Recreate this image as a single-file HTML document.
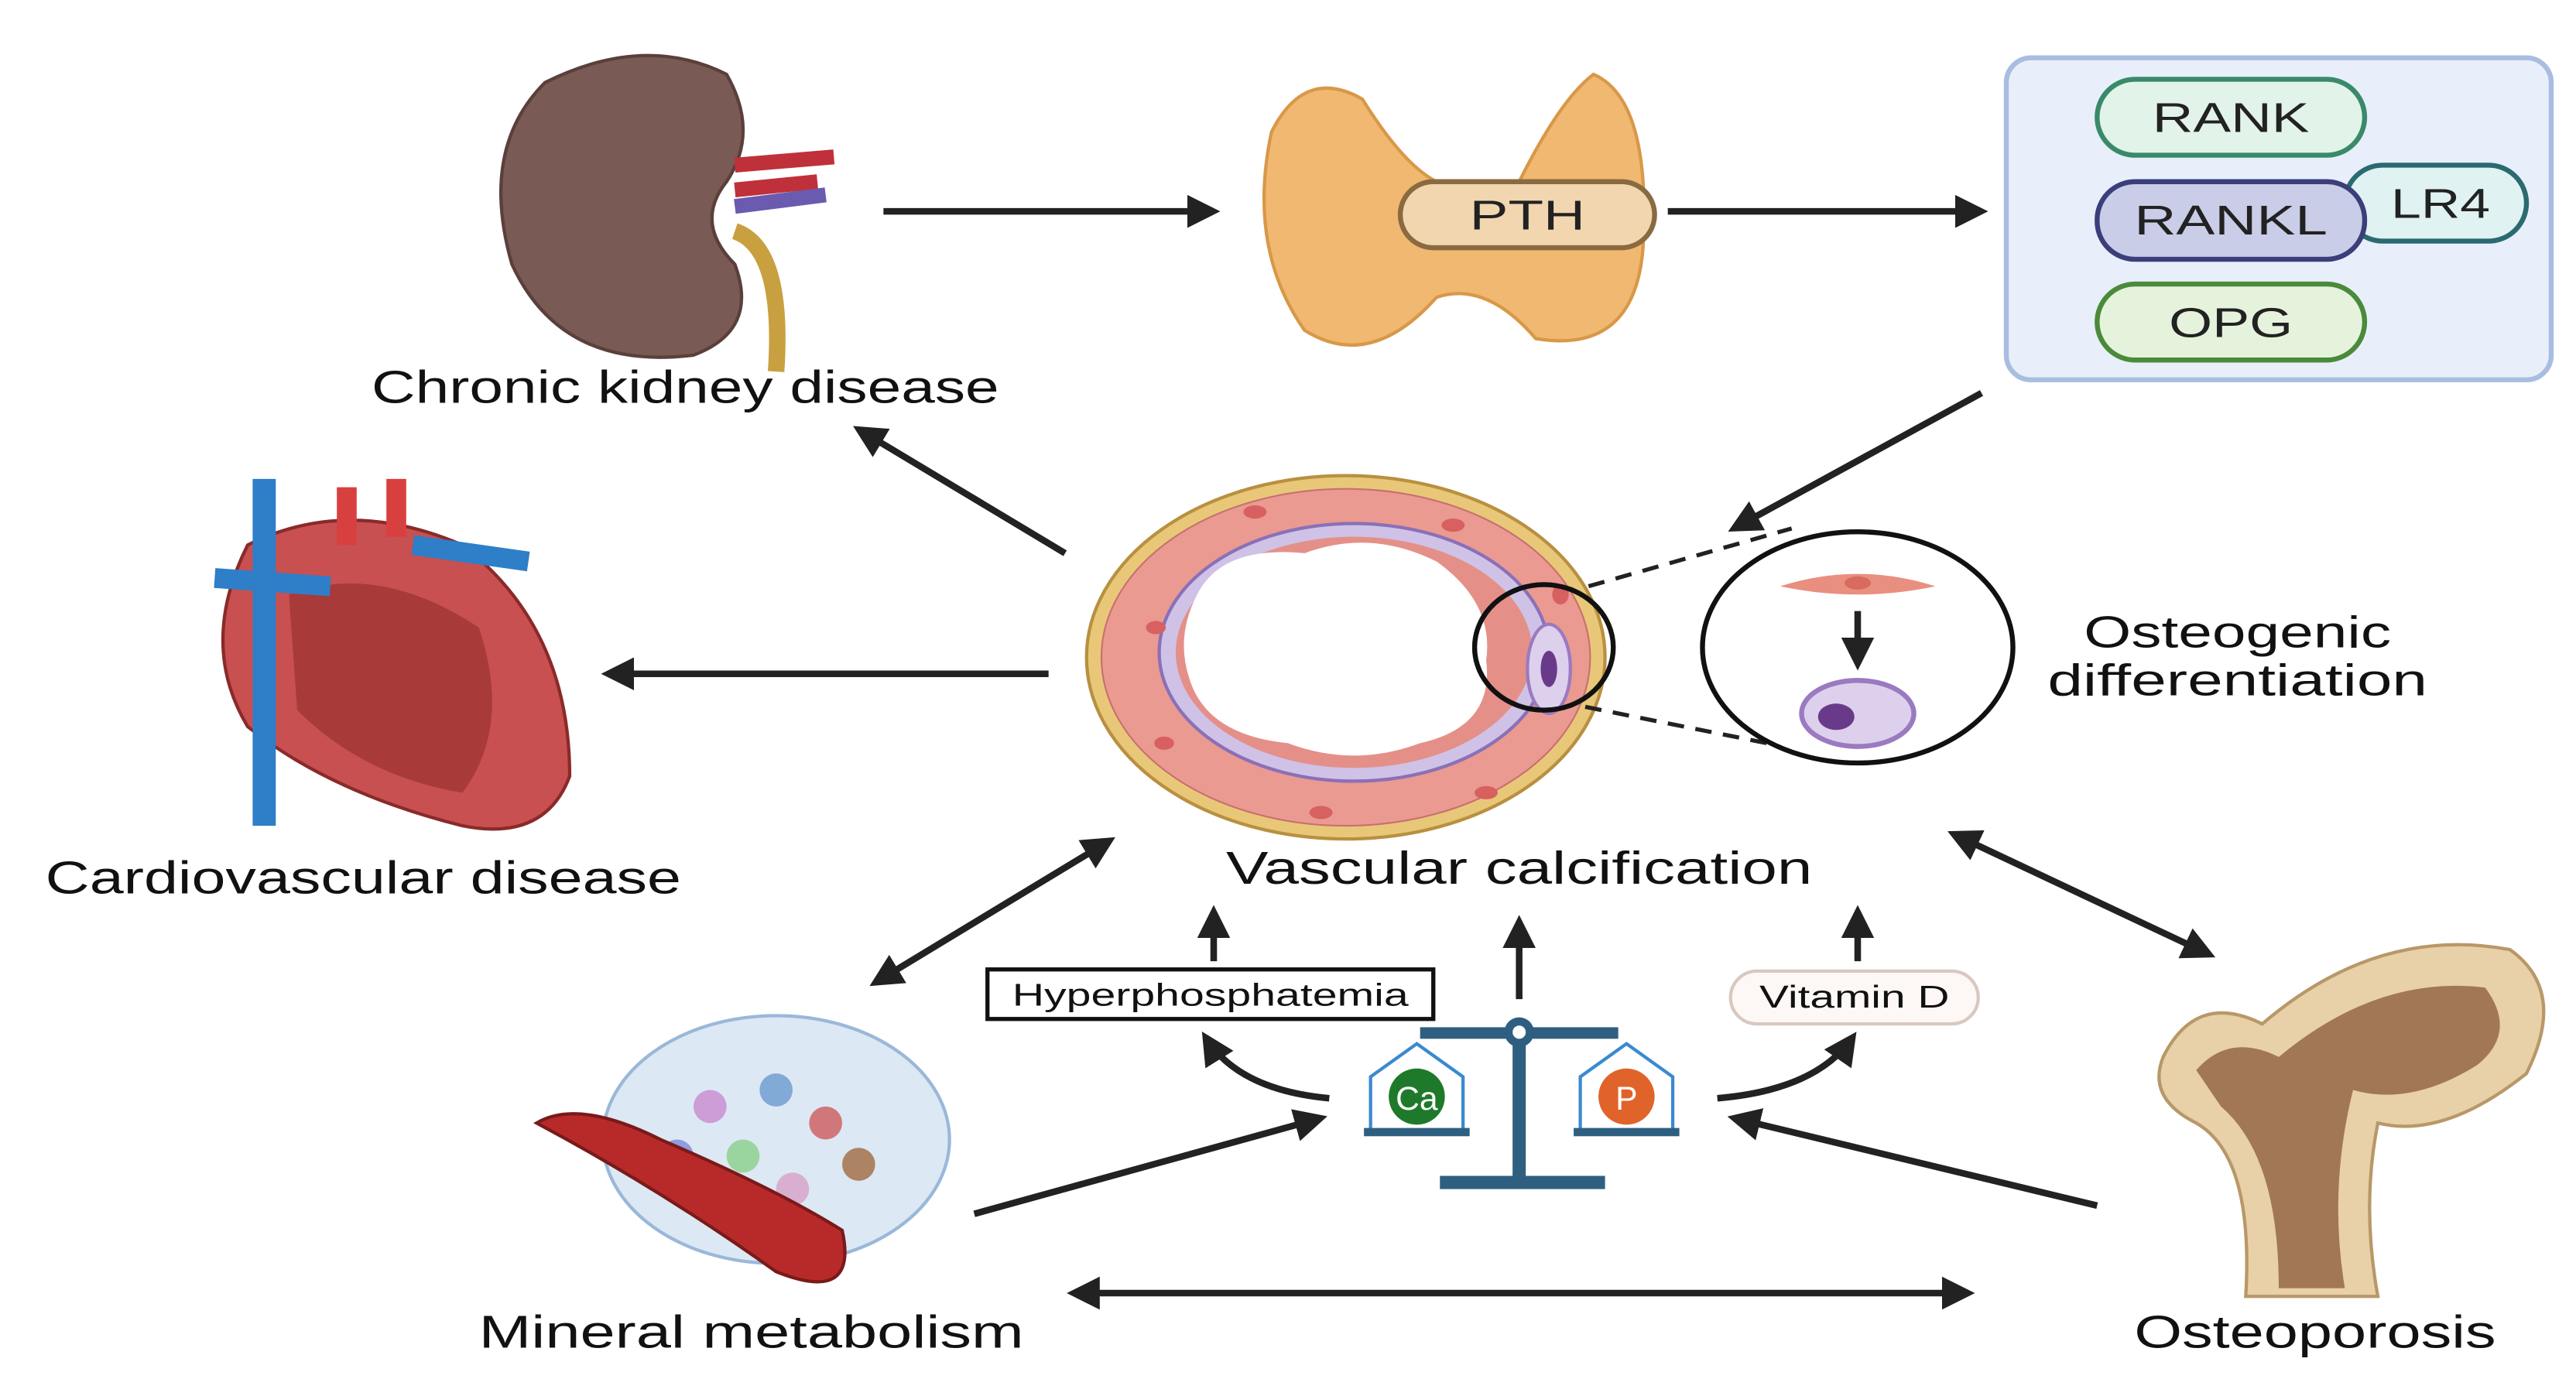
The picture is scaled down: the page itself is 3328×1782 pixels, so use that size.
<!DOCTYPE html>
<html><head><meta charset="utf-8"><style>html,body{margin:0;padding:0;background:#fff}svg{display:block}text{font-family:"Liberation Sans",sans-serif}</style></head><body>
<svg width="3328" height="1782" viewBox="0 0 1560 835" preserveAspectRatio="none" xmlns="http://www.w3.org/2000/svg">
<defs>
<marker id="ah" markerWidth="5" markerHeight="5" refX="4" refY="2.5" orient="auto" markerUnits="strokeWidth"><path d="M0,0 L5,2.5 L0,5 z" fill="#222"/></marker>
<marker id="as" markerWidth="5" markerHeight="5" refX="1" refY="2.5" orient="auto" markerUnits="strokeWidth"><path d="M5,0 L0,2.5 L5,5 z" fill="#222"/></marker>
</defs>
<g stroke="#222" stroke-width="4" fill="none">
<line x1="535" y1="128" x2="735" y2="128" marker-end="url(#ah)"/>
<line x1="1010" y1="128" x2="1200" y2="128" marker-end="url(#ah)"/>
<line x1="1200" y1="238" x2="1050" y2="320" marker-end="url(#ah)"/>
<line x1="645" y1="335" x2="520" y2="260" marker-end="url(#ah)"/>
<line x1="635" y1="408" x2="368" y2="408" marker-end="url(#ah)"/>
<line x1="530" y1="595" x2="672" y2="509" marker-end="url(#ah)" marker-start="url(#as)"/>
<line x1="1183" y1="505" x2="1338" y2="578" marker-end="url(#ah)" marker-start="url(#as)"/>
<line x1="735" y1="582" x2="735" y2="552" marker-end="url(#ah)"/>
<line x1="920" y1="605" x2="920" y2="558" marker-end="url(#ah)"/>
<line x1="1125" y1="582" x2="1125" y2="552" marker-end="url(#ah)"/>
<path d="M805,665 Q750,660 730,628" marker-end="url(#ah)"/>
<path d="M1040,665 Q1100,660 1122,628" marker-end="url(#ah)"/>
<line x1="590" y1="735" x2="800" y2="677" marker-end="url(#ah)"/>
<line x1="1270" y1="730" x2="1050" y2="677" marker-end="url(#ah)"/>
<line x1="650" y1="783" x2="1192" y2="783" marker-end="url(#ah)" marker-start="url(#as)"/>
</g>
<!-- kidney -->
<path d="M330,50 Q390,20 440,45 Q460,80 440,110 Q420,135 445,160 Q460,200 420,215 Q340,225 310,160 Q290,90 330,50z" fill="#7a5a55" stroke="#5a3f3a" stroke-width="2"/>
<path d="M445,100 L505,95 M445,115 L495,110" stroke="#c0303a" stroke-width="9"/>
<path d="M445,125 L500,118" stroke="#6a5ab0" stroke-width="9"/>
<path d="M445,140 Q475,150 470,225" stroke="#c8a040" stroke-width="10" fill="none"/>
<text x="415" y="244" font-size="28" text-anchor="middle" fill="#111" textLength="380" lengthAdjust="spacingAndGlyphs">Chronic kidney disease</text>
<!-- thyroid -->
<path d="M770,80 Q790,40 825,60 Q850,100 870,110 L920,110 Q945,60 965,45 Q1000,60 995,150 Q990,215 930,205 Q900,170 870,180 Q830,225 790,200 Q755,150 770,80z" fill="#f0b870" stroke="#d89848" stroke-width="2"/>
<rect x="848" y="110" width="154" height="40" rx="20" fill="#f2d6b0" stroke="#8a6a40" stroke-width="3"/>
<text x="925" y="139" font-size="25" text-anchor="middle" fill="#222" textLength="70" lengthAdjust="spacingAndGlyphs">PTH</text>
<!-- receptor box -->
<rect x="1215" y="35" width="330" height="195" rx="15" fill="#e8effa" stroke="#a8bde0" stroke-width="3"/>
<rect x="1270" y="48" width="162" height="46" rx="23" fill="#e2f3ea" stroke="#3a8a6a" stroke-width="3"/>
<text x="1351" y="80" font-size="25" text-anchor="middle" fill="#222" textLength="95" lengthAdjust="spacingAndGlyphs">RANK</text>
<rect x="1420" y="100" width="110" height="46" rx="23" fill="#e0f2f2" stroke="#2a6a70" stroke-width="3"/>
<text x="1478" y="132" font-size="25" text-anchor="middle" fill="#222" textLength="60" lengthAdjust="spacingAndGlyphs">LR4</text>
<rect x="1270" y="110" width="162" height="47" rx="23" fill="#cacde8" stroke="#3a3f7a" stroke-width="3"/>
<text x="1351" y="142" font-size="25" text-anchor="middle" fill="#222" textLength="117" lengthAdjust="spacingAndGlyphs">RANKL</text>
<rect x="1270" y="172" width="162" height="46" rx="23" fill="#e5f3dd" stroke="#4a8a3a" stroke-width="3"/>
<text x="1351" y="204" font-size="25" text-anchor="middle" fill="#222" textLength="75" lengthAdjust="spacingAndGlyphs">OPG</text>
<!-- heart -->
<path d="M150,330 Q210,300 280,330 Q345,380 345,470 Q330,510 280,500 Q200,480 150,440 Q120,390 150,330z" fill="#c85050" stroke="#8a2a2a" stroke-width="2"/>
<path d="M175,360 Q230,340 290,380 Q310,440 280,480 Q220,470 180,430z" fill="#a83a3a"/>
<path d="M160,290 L160,500" stroke="#2f7ec8" stroke-width="14"/>
<path d="M130,350 L200,355 M250,330 L320,340" stroke="#2f7ec8" stroke-width="12"/>
<path d="M210,295 L210,330 M240,290 L240,325" stroke="#d84040" stroke-width="12"/>
<text x="220" y="541" font-size="28" text-anchor="middle" fill="#111" textLength="385" lengthAdjust="spacingAndGlyphs">Cardiovascular disease</text>
<!-- vessel -->
<ellipse cx="815" cy="398" rx="157" ry="110" fill="#e8c878" stroke="#b89040" stroke-width="2"/>
<ellipse cx="815" cy="398" rx="148" ry="102" fill="#ea9a90" stroke="#c87070" stroke-width="1"/>
<ellipse cx="820" cy="395" rx="118" ry="78" fill="#cfc2e6" stroke="#8a70b8" stroke-width="2"/>
<ellipse cx="820" cy="395" rx="108" ry="70" fill="#e49088"/>
<path d="M725,360 Q740,330 790,335 Q830,320 870,340 Q905,365 900,400 Q905,440 860,450 Q820,465 780,450 Q730,445 720,410 Q712,385 725,360z" fill="#fff"/>
<g fill="#d86060"><ellipse cx="700" cy="380" rx="6" ry="4"/><ellipse cx="760" cy="310" rx="7" ry="4"/><ellipse cx="880" cy="318" rx="7" ry="4"/><ellipse cx="705" cy="450" rx="6" ry="4"/><ellipse cx="800" cy="492" rx="7" ry="4"/><ellipse cx="900" cy="480" rx="7" ry="4"/><ellipse cx="945" cy="360" rx="5" ry="6"/></g>
<ellipse cx="938" cy="405" rx="13" ry="27" fill="#ddd0ec" stroke="#9a7ac0" stroke-width="2"/>
<ellipse cx="938" cy="405" rx="5" ry="11" fill="#6a3a8a"/>
<ellipse cx="935" cy="392" rx="42" ry="38" fill="none" stroke="#111" stroke-width="3"/>
<path d="M962,355 L1085,320 M960,428 L1080,452" stroke="#222" stroke-width="2.5" stroke-dasharray="10,7"/>
<ellipse cx="1125" cy="392" rx="94" ry="70" fill="#fff" stroke="#111" stroke-width="3"/>
<path d="M1078,355 Q1125,340 1172,355 Q1125,365 1078,355z" fill="#e98f80"/>
<ellipse cx="1125" cy="353" rx="8" ry="4" fill="#d86a60"/>
<line x1="1125" y1="370" x2="1125" y2="402" stroke="#222" stroke-width="4" marker-end="url(#ah)"/>
<ellipse cx="1125" cy="432" rx="34" ry="20" fill="#ddd0ec" stroke="#9a7ac0" stroke-width="3"/>
<ellipse cx="1112" cy="434" rx="11" ry="8" fill="#6a3a8a"/>
<text x="1355" y="392" font-size="27" text-anchor="middle" fill="#111" textLength="186" lengthAdjust="spacingAndGlyphs">Osteogenic</text>
<text x="1355" y="421" font-size="27" text-anchor="middle" fill="#111" textLength="230" lengthAdjust="spacingAndGlyphs">differentiation</text>
<text x="920" y="535" font-size="28" text-anchor="middle" fill="#111" textLength="355" lengthAdjust="spacingAndGlyphs">Vascular calcification</text>
<!-- hyper / vit D -->
<rect x="598" y="587" width="270" height="30" fill="#fff" stroke="#111" stroke-width="2.5"/>
<text x="733" y="609" font-size="19" text-anchor="middle" fill="#111" textLength="240" lengthAdjust="spacingAndGlyphs">Hyperphosphatemia</text>
<rect x="1048" y="588" width="150" height="32" rx="16" fill="#fdf8f5" stroke="#d8c8c0" stroke-width="2"/>
<text x="1123" y="610" font-size="19" text-anchor="middle" fill="#111" textLength="115" lengthAdjust="spacingAndGlyphs">Vitamin D</text>
<!-- scale -->
<g fill="#2f5f80">
<rect x="860" y="622" width="120" height="7"/><rect x="916" y="625" width="8" height="90"/><rect x="872" y="712" width="100" height="8"/>
<circle cx="920" cy="625" r="9"/></g>
<circle cx="920" cy="625" r="4" fill="#fff"/>
<path d="M830,685 L830,652 L858,632 L886,652 L886,685" fill="none" stroke="#3a8ad0" stroke-width="2"/>
<path d="M957,685 L957,652 L985,632 L1013,652 L1013,685" fill="none" stroke="#3a8ad0" stroke-width="2"/>
<rect x="826" y="683" width="64" height="5" fill="#2f5f80"/><rect x="953" y="683" width="64" height="5" fill="#2f5f80"/>
<circle cx="858" cy="664" r="17" fill="#1e7a2a"/><text x="858" y="672" font-size="20" text-anchor="middle" fill="#fff">Ca</text>
<circle cx="985" cy="664" r="17" fill="#e0632a"/><text x="985" y="672" font-size="20" text-anchor="middle" fill="#fff">P</text>
<!-- mineral -->
<ellipse cx="470" cy="690" rx="105" ry="75" fill="#dde8f5" stroke="#9ab8d8" stroke-width="2"/>
<g fill-opacity="0.8"><circle cx="430" cy="670" r="10" fill="#c88ad0"/><circle cx="470" cy="660" r="10" fill="#6a9ad0"/><circle cx="500" cy="680" r="10" fill="#d05a5a"/><circle cx="450" cy="700" r="10" fill="#8ad08a"/><circle cx="520" cy="705" r="10" fill="#a06a40"/><circle cx="410" cy="700" r="10" fill="#7a8ad8"/><circle cx="480" cy="720" r="10" fill="#d8a0c8"/></g>
<path d="M325,680 Q400,720 470,770 Q520,790 510,745 Q470,720 400,690 Q350,665 325,680z" fill="#b82a2a" stroke="#7a1a1a" stroke-width="2"/>
<text x="455" y="816" font-size="28" text-anchor="middle" fill="#111" textLength="330" lengthAdjust="spacingAndGlyphs">Mineral metabolism</text>
<!-- bone -->
<path d="M1310,640 Q1330,600 1370,620 Q1440,560 1520,575 Q1555,600 1530,650 Q1480,690 1440,680 Q1430,730 1440,785 L1360,785 Q1365,700 1330,680 Q1300,665 1310,640z" fill="#e8d0a8" stroke="#b89868" stroke-width="2"/>
<path d="M1330,648 Q1350,625 1380,640 Q1440,590 1505,598 Q1525,625 1500,645 Q1460,670 1425,660 Q1410,720 1420,780 L1380,780 Q1380,700 1345,670z" fill="#8a5a3a" opacity="0.75"/>
<text x="1402" y="816" font-size="28" text-anchor="middle" fill="#111" textLength="219" lengthAdjust="spacingAndGlyphs">Osteoporosis</text>
</svg>
</body></html>
